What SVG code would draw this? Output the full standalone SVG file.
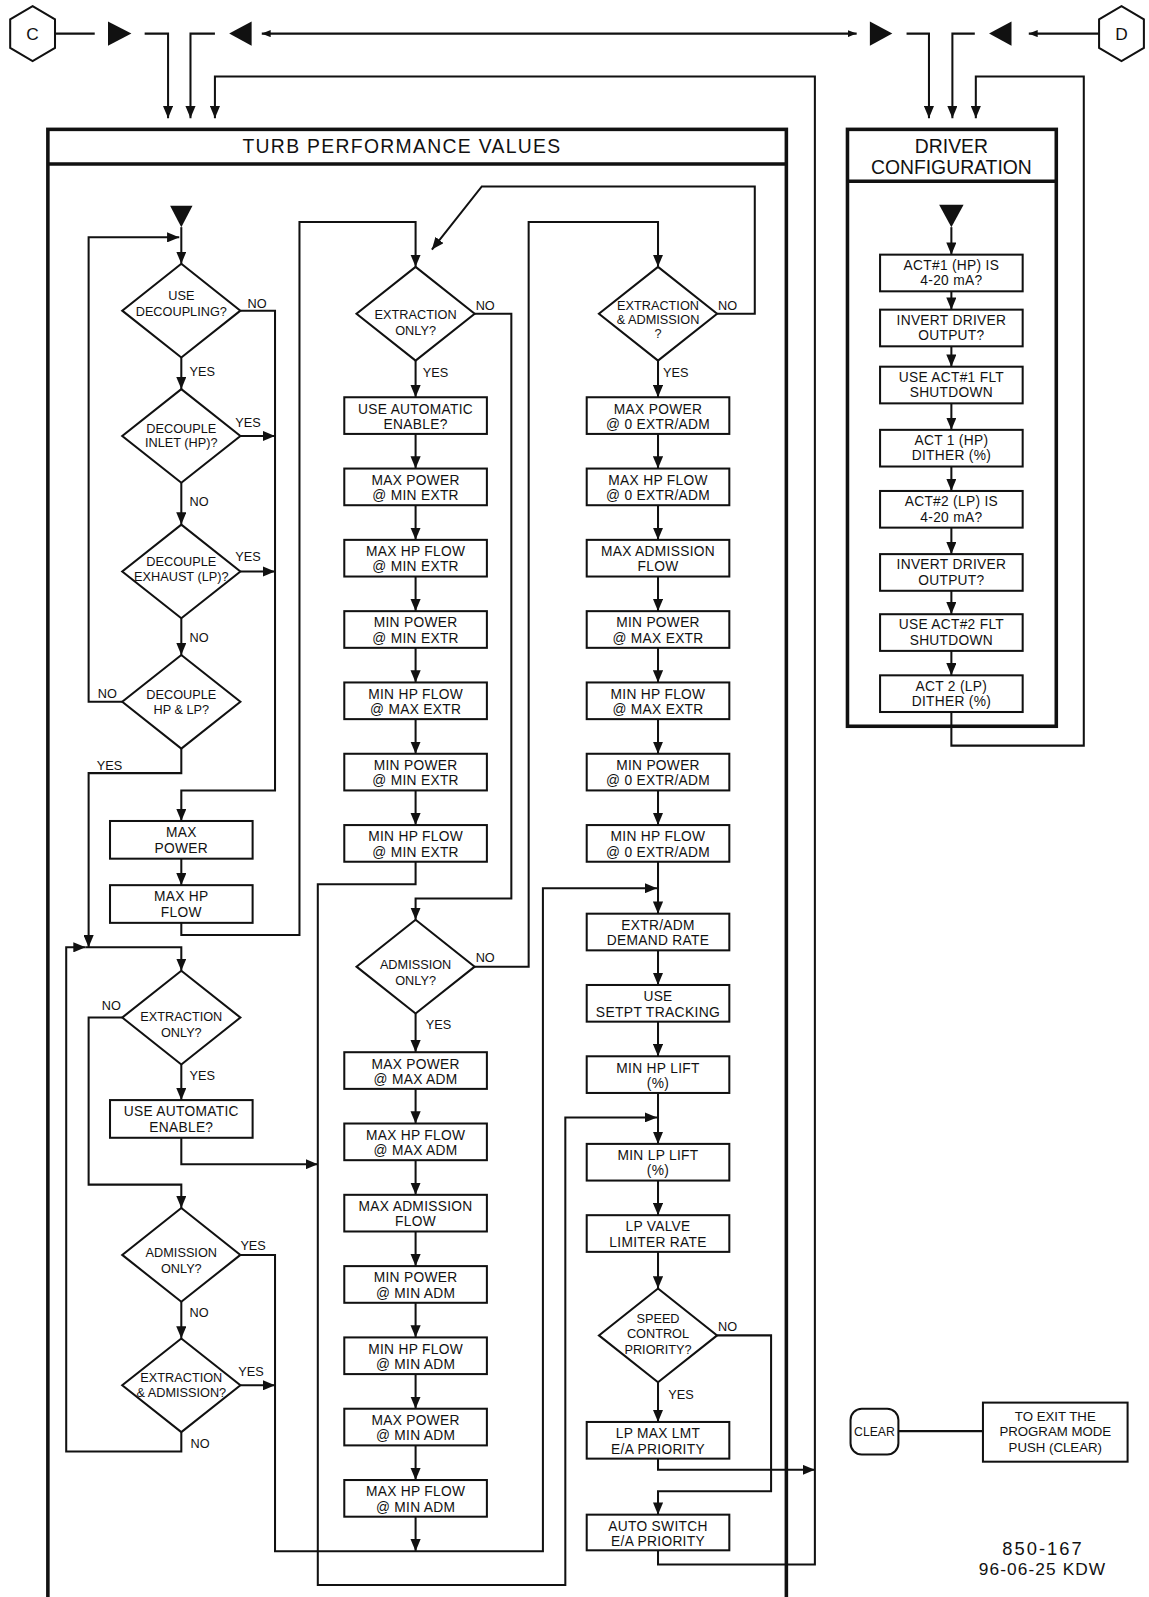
<svg xmlns="http://www.w3.org/2000/svg" width="1149" height="1597" viewBox="0 0 1149 1597">
<style>
.ln{fill:none;stroke:#111;stroke-width:2}
.bx{fill:#fff;stroke:#111;stroke-width:2}
.dm{fill:#fff;stroke:#111;stroke-width:2}
.fr{fill:none;stroke:#111;stroke-width:3.5}
.fl{fill:#111;stroke:none}
text{font-family:"Liberation Sans",Arial,sans-serif;fill:#111}
.t{font-size:13.5px;text-anchor:middle;letter-spacing:0.3px}
.td{font-size:12.5px;text-anchor:middle}
.lb{font-size:12.5px}
.h{font-size:19px;text-anchor:middle}
</style>
<defs>
<marker id="ah" viewBox="0 0 12 10" refX="12" refY="5" markerWidth="12" markerHeight="10" markerUnits="userSpaceOnUse" orient="auto"><path d="M0,0 L12,5 L0,10 Z" fill="#111"/></marker>
<marker id="as" viewBox="0 0 10 8" refX="10" refY="4" markerWidth="9" markerHeight="7" markerUnits="userSpaceOnUse" orient="auto-start-reverse"><path d="M0,0 L10,4 L0,8 Z" fill="#111"/></marker>
</defs>
<rect width="1149" height="1597" fill="#fff"/>
<g transform="scale(1.0186)">

<!-- frames -->
<g id="turb-frame">
<rect class="fr" x="47" y="127" width="725" height="1470"/>
<line class="fr" x1="47" y1="161" x2="772" y2="161"/>
<text class="h" x="394" y="150" textLength="312" lengthAdjust="spacing">TURB PERFORMANCE VALUES</text>
</g>
<g id="driver-frame">
<rect class="fr" x="832" y="127" width="205" height="586"/>
<line class="fr" x1="832" y1="178" x2="1037" y2="178"/>
<text class="h" x="934" y="150">DRIVER</text>
<text class="h" x="934" y="171">CONFIGURATION</text>
</g>

<!-- connectors -->
<g id="connectors" class="ln">
<path d="M55,33 H93"/>
<path d="M142,33 H165 V116" marker-end="url(#ah)"/>
<path d="M211,33 H187 V116" marker-end="url(#ah)"/>
<path d="M257,33 H841" marker-start="url(#as)" marker-end="url(#as)"/>
<path d="M890,33 H912 V116" marker-end="url(#ah)"/>
<path d="M957,33 H935 V116" marker-end="url(#ah)"/>
<path d="M1079,33 H1010" marker-end="url(#as)"/>
<path d="M646,1522 V1536 H800 V75 H211 V116" marker-end="url(#ah)"/>
<path d="M646,1432 V1443 H800" marker-end="url(#ah)"/>
<path d="M934,699 V732 H1064 V75 H958 V116" marker-end="url(#ah)"/>

<path d="M178,223 V259" marker-end="url(#ah)"/>
<path d="M120,689 H87 V233 H176" marker-end="url(#ah)"/>
<path d="M236,305 H270 V776 H178 V806" marker-end="url(#ah)"/>
<path d="M178,351 V382" marker-end="url(#ah)"/>
<path d="M236,428 H270" marker-end="url(#ah)"/>
<path d="M178,474 V515" marker-end="url(#ah)"/>
<path d="M236,561 H270" marker-end="url(#ah)"/>
<path d="M178,607 V643" marker-end="url(#ah)"/>
<path d="M178,735 V759 H87 V930" marker-end="url(#ah)"/>
<path d="M178,843 V869" marker-end="url(#ah)"/>
<path d="M178,905 V918 H294 V218 H408 V262" marker-end="url(#ah)"/>
<path d="M178,1406 V1425 H65 V930 H84" marker-end="url(#ah)"/>
<path d="M84,930 H178 V953" marker-end="url(#ah)"/>
<path d="M120,999 H87 V1163 H178 V1186" marker-end="url(#ah)"/>
<path d="M178,1045 V1080" marker-end="url(#ah)"/>
<path d="M178,1116 V1143 H312" marker-end="url(#ah)"/>
<path d="M236,1232 H270 V1523 H533 V872 H645" marker-end="url(#ah)"/>
<path d="M178,1278 V1314" marker-end="url(#ah)"/>
<path d="M236,1360 H270" marker-end="url(#ah)"/>

<path d="M704,308 H741 V183 H473 L424,245" marker-end="url(#ah)"/>
<path d="M466,308 H502 V882 H408 V903" marker-end="url(#ah)"/>
<path d="M408,354 V390" marker-end="url(#ah)"/>
<path d="M408,426 V460" marker-end="url(#ah)"/>
<path d="M408,496 V530" marker-end="url(#ah)"/>
<path d="M408,566 V600" marker-end="url(#ah)"/>
<path d="M408,636 V670" marker-end="url(#ah)"/>
<path d="M408,706 V740" marker-end="url(#ah)"/>
<path d="M408,776 V810" marker-end="url(#ah)"/>
<path d="M408,846 V868 H312 V1556 H555 V1097 H645" marker-end="url(#ah)"/>
<path d="M466,949 H519 V218 H646 V262" marker-end="url(#ah)"/>
<path d="M408,995 V1033" marker-end="url(#ah)"/>
<path d="M408,1069 V1103" marker-end="url(#ah)"/>
<path d="M408,1139 V1173" marker-end="url(#ah)"/>
<path d="M408,1209 V1243" marker-end="url(#ah)"/>
<path d="M408,1279 V1313" marker-end="url(#ah)"/>
<path d="M408,1349 V1383" marker-end="url(#ah)"/>
<path d="M408,1419 V1453" marker-end="url(#ah)"/>
<path d="M408,1489 V1523" marker-end="url(#ah)"/>

<path d="M646,354 V390" marker-end="url(#ah)"/>
<path d="M646,426 V460" marker-end="url(#ah)"/>
<path d="M646,496 V530" marker-end="url(#ah)"/>
<path d="M646,566 V600" marker-end="url(#ah)"/>
<path d="M646,636 V670" marker-end="url(#ah)"/>
<path d="M646,706 V740" marker-end="url(#ah)"/>
<path d="M646,776 V810" marker-end="url(#ah)"/>
<path d="M646,846 V897" marker-end="url(#ah)"/>
<path d="M646,933 V967" marker-end="url(#ah)"/>
<path d="M646,1003 V1037" marker-end="url(#ah)"/>
<path d="M646,1073 V1123" marker-end="url(#ah)"/>
<path d="M646,1159 V1193" marker-end="url(#ah)"/>
<path d="M646,1229 V1265" marker-end="url(#ah)"/>
<path d="M646,1357 V1396" marker-end="url(#ah)"/>
<path d="M704,1311 H757 V1464 H646 V1487" marker-end="url(#ah)"/>

<path d="M934,223 V250" marker-end="url(#ah)"/>
<path d="M934,286 V304" marker-end="url(#ah)"/>
<path d="M934,340 V360" marker-end="url(#ah)"/>
<path d="M934,396 V422" marker-end="url(#ah)"/>
<path d="M934,458 V482" marker-end="url(#ah)"/>
<path d="M934,518 V544" marker-end="url(#ah)"/>
<path d="M934,580 V603" marker-end="url(#ah)"/>
<path d="M934,639 V663" marker-end="url(#ah)"/>

<path d="M882,1405 H965"/>
</g>

<!-- top row nodes -->
<g id="conn-C"><polygon class="dm" points="32,6 54,19 54,47 32,60 10,47 10,19"/><text x="32" y="39.5" style="font-size:17px;text-anchor:middle">C</text></g>
<g id="conn-D"><polygon class="dm" points="1101,6 1123,19 1123,47 1101,60 1079,47 1079,19"/><text x="1101" y="39.5" style="font-size:17px;text-anchor:middle">D</text></g>
<g id="tri-1"><polygon class="fl" points="106,21 129,33 106,45"/></g>
<g id="tri-2"><polygon class="fl" points="247,21 225,33 247,45"/></g>
<g id="tri-3"><polygon class="fl" points="854,21 876,33 854,45"/></g>
<g id="tri-4"><polygon class="fl" points="993,21 971,33 993,45"/></g>
<g id="start-turb"><polygon class="fl" points="167,202 189,202 178,223"/></g>
<g id="start-driver"><polygon class="fl" points="922,201 946,201 934,223"/></g>

<!-- left column -->
<g id="d1"><polygon class="dm" points="178,259 236,305 178,351 120,305"/><text class="td" x="178" y="295">USE</text><text class="td" x="178" y="310">DECOUPLING?</text></g>
<g id="d2"><polygon class="dm" points="178,382 236,428 178,474 120,428"/><text class="td" x="178" y="425">DECOUPLE</text><text class="td" x="178" y="439">INLET (HP)?</text></g>
<g id="d3"><polygon class="dm" points="178,515 236,561 178,607 120,561"/><text class="td" x="178" y="556">DECOUPLE</text><text class="td" x="178" y="570">EXHAUST (LP)?</text></g>
<g id="d4"><polygon class="dm" points="178,643 236,689 178,735 120,689"/><text class="td" x="178" y="686">DECOUPLE</text><text class="td" x="178" y="701">HP &amp; LP?</text></g>
<g id="lb1"><rect class="bx" x="108" y="806" width="140" height="37"/><text class="t" x="178" y="822">MAX</text><text class="t" x="178" y="837">POWER</text></g>
<g id="lb2"><rect class="bx" x="108" y="869" width="140" height="37"/><text class="t" x="178" y="885">MAX HP</text><text class="t" x="178" y="900">FLOW</text></g>
<g id="d5"><polygon class="dm" points="178,953 236,999 178,1045 120,999"/><text class="td" x="178" y="1002">EXTRACTION</text><text class="td" x="178" y="1018">ONLY?</text></g>
<g id="lb3"><rect class="bx" x="108" y="1080" width="140" height="37"/><text class="t" x="178" y="1096">USE AUTOMATIC</text><text class="t" x="178" y="1111">ENABLE?</text></g>
<g id="d6"><polygon class="dm" points="178,1186 236,1232 178,1278 120,1232"/><text class="td" x="178" y="1234">ADMISSION</text><text class="td" x="178" y="1250">ONLY?</text></g>
<g id="d7"><polygon class="dm" points="178,1314 236,1360 178,1406 120,1360"/><text class="td" x="178" y="1357">EXTRACTION</text><text class="td" x="178" y="1371">&amp; ADMISSION?</text></g>

<!-- middle column -->
<g id="m1"><polygon class="dm" points="408,262 466,308 408,354 350,308"/><text class="td" x="408" y="313">EXTRACTION</text><text class="td" x="408" y="329">ONLY?</text></g>
<g id="mb1"><rect class="bx" x="338" y="390" width="140" height="36"/><text class="t" x="408" y="406">USE AUTOMATIC</text><text class="t" x="408" y="421">ENABLE?</text></g>
<g id="mb2"><rect class="bx" x="338" y="460" width="140" height="36"/><text class="t" x="408" y="476">MAX POWER</text><text class="t" x="408" y="491">@ MIN EXTR</text></g>
<g id="mb3"><rect class="bx" x="338" y="530" width="140" height="36"/><text class="t" x="408" y="546">MAX HP FLOW</text><text class="t" x="408" y="561">@ MIN EXTR</text></g>
<g id="mb4"><rect class="bx" x="338" y="600" width="140" height="36"/><text class="t" x="408" y="616">MIN POWER</text><text class="t" x="408" y="631">@ MIN EXTR</text></g>
<g id="mb5"><rect class="bx" x="338" y="670" width="140" height="36"/><text class="t" x="408" y="686">MIN HP FLOW</text><text class="t" x="408" y="701">@ MAX EXTR</text></g>
<g id="mb6"><rect class="bx" x="338" y="740" width="140" height="36"/><text class="t" x="408" y="756">MIN POWER</text><text class="t" x="408" y="771">@ MIN EXTR</text></g>
<g id="mb7"><rect class="bx" x="338" y="810" width="140" height="36"/><text class="t" x="408" y="826">MIN HP FLOW</text><text class="t" x="408" y="841">@ MIN EXTR</text></g>
<g id="m2"><polygon class="dm" points="408,903 466,949 408,995 350,949"/><text class="td" x="408" y="951">ADMISSION</text><text class="td" x="408" y="967">ONLY?</text></g>
<g id="mb8"><rect class="bx" x="338" y="1033" width="140" height="36"/><text class="t" x="408" y="1049">MAX POWER</text><text class="t" x="408" y="1064">@ MAX ADM</text></g>
<g id="mb9"><rect class="bx" x="338" y="1103" width="140" height="36"/><text class="t" x="408" y="1119">MAX HP FLOW</text><text class="t" x="408" y="1134">@ MAX ADM</text></g>
<g id="mb10"><rect class="bx" x="338" y="1173" width="140" height="36"/><text class="t" x="408" y="1189">MAX ADMISSION</text><text class="t" x="408" y="1204">FLOW</text></g>
<g id="mb11"><rect class="bx" x="338" y="1243" width="140" height="36"/><text class="t" x="408" y="1259">MIN POWER</text><text class="t" x="408" y="1274">@ MIN ADM</text></g>
<g id="mb12"><rect class="bx" x="338" y="1313" width="140" height="36"/><text class="t" x="408" y="1329">MIN HP FLOW</text><text class="t" x="408" y="1344">@ MIN ADM</text></g>
<g id="mb13"><rect class="bx" x="338" y="1383" width="140" height="36"/><text class="t" x="408" y="1399">MAX POWER</text><text class="t" x="408" y="1414">@ MIN ADM</text></g>
<g id="mb14"><rect class="bx" x="338" y="1453" width="140" height="36"/><text class="t" x="408" y="1469">MAX HP FLOW</text><text class="t" x="408" y="1484">@ MIN ADM</text></g>

<!-- right column -->
<g id="r1"><polygon class="dm" points="646,262 704,308 646,354 588,308"/><text class="td" x="646" y="304">EXTRACTION</text><text class="td" x="646" y="318">&amp; ADMISSION</text><text class="td" x="646" y="332">?</text></g>
<g id="rb1"><rect class="bx" x="576" y="390" width="140" height="36"/><text class="t" x="646" y="406">MAX POWER</text><text class="t" x="646" y="421">@ 0 EXTR/ADM</text></g>
<g id="rb2"><rect class="bx" x="576" y="460" width="140" height="36"/><text class="t" x="646" y="476">MAX HP FLOW</text><text class="t" x="646" y="491">@ 0 EXTR/ADM</text></g>
<g id="rb3"><rect class="bx" x="576" y="530" width="140" height="36"/><text class="t" x="646" y="546">MAX ADMISSION</text><text class="t" x="646" y="561">FLOW</text></g>
<g id="rb4"><rect class="bx" x="576" y="600" width="140" height="36"/><text class="t" x="646" y="616">MIN POWER</text><text class="t" x="646" y="631">@ MAX EXTR</text></g>
<g id="rb5"><rect class="bx" x="576" y="670" width="140" height="36"/><text class="t" x="646" y="686">MIN HP FLOW</text><text class="t" x="646" y="701">@ MAX EXTR</text></g>
<g id="rb6"><rect class="bx" x="576" y="740" width="140" height="36"/><text class="t" x="646" y="756">MIN POWER</text><text class="t" x="646" y="771">@ 0 EXTR/ADM</text></g>
<g id="rb7"><rect class="bx" x="576" y="810" width="140" height="36"/><text class="t" x="646" y="826">MIN HP FLOW</text><text class="t" x="646" y="841">@ 0 EXTR/ADM</text></g>
<g id="rb8"><rect class="bx" x="576" y="897" width="140" height="36"/><text class="t" x="646" y="913">EXTR/ADM</text><text class="t" x="646" y="928">DEMAND RATE</text></g>
<g id="rb9"><rect class="bx" x="576" y="967" width="140" height="36"/><text class="t" x="646" y="983">USE</text><text class="t" x="646" y="998" textLength="122" lengthAdjust="spacingAndGlyphs">SETPT TRACKING</text></g>
<g id="rb10"><rect class="bx" x="576" y="1037" width="140" height="36"/><text class="t" x="646" y="1053">MIN HP LIFT</text><text class="t" x="646" y="1068">(%)</text></g>
<g id="rb11"><rect class="bx" x="576" y="1123" width="140" height="36"/><text class="t" x="646" y="1139">MIN LP LIFT</text><text class="t" x="646" y="1154">(%)</text></g>
<g id="rb12"><rect class="bx" x="576" y="1193" width="140" height="36"/><text class="t" x="646" y="1209">LP VALVE</text><text class="t" x="646" y="1224">LIMITER RATE</text></g>
<g id="r2"><polygon class="dm" points="646,1265 704,1311 646,1357 588,1311"/><text class="td" x="646" y="1299">SPEED</text><text class="td" x="646" y="1314">CONTROL</text><text class="td" x="646" y="1329">PRIORITY?</text></g>
<g id="rb13"><rect class="bx" x="576" y="1396" width="140" height="36"/><text class="t" x="646" y="1412">LP MAX LMT</text><text class="t" x="646" y="1427">E/A PRIORITY</text></g>
<g id="rb14"><rect class="bx" x="576" y="1487" width="140" height="35"/><text class="t" x="646" y="1503">AUTO SWITCH</text><text class="t" x="646" y="1518">E/A PRIORITY</text></g>

<!-- driver column -->
<g id="db1"><rect class="bx" x="864" y="250" width="140" height="36"/><text class="t" x="934" y="265">ACT#1 (HP) IS</text><text class="t" x="934" y="280">4-20 mA?</text></g>
<g id="db2"><rect class="bx" x="864" y="304" width="140" height="36"/><text class="t" x="934" y="319">INVERT DRIVER</text><text class="t" x="934" y="334">OUTPUT?</text></g>
<g id="db3"><rect class="bx" x="864" y="360" width="140" height="36"/><text class="t" x="934" y="375">USE ACT#1 FLT</text><text class="t" x="934" y="390">SHUTDOWN</text></g>
<g id="db4"><rect class="bx" x="864" y="422" width="140" height="36"/><text class="t" x="934" y="437">ACT 1 (HP)</text><text class="t" x="934" y="452">DITHER (%)</text></g>
<g id="db5"><rect class="bx" x="864" y="482" width="140" height="36"/><text class="t" x="934" y="497">ACT#2 (LP) IS</text><text class="t" x="934" y="512">4-20 mA?</text></g>
<g id="db6"><rect class="bx" x="864" y="544" width="140" height="36"/><text class="t" x="934" y="559">INVERT DRIVER</text><text class="t" x="934" y="574">OUTPUT?</text></g>
<g id="db7"><rect class="bx" x="864" y="603" width="140" height="36"/><text class="t" x="934" y="618">USE ACT#2 FLT</text><text class="t" x="934" y="633">SHUTDOWN</text></g>
<g id="db8"><rect class="bx" x="864" y="663" width="140" height="36"/><text class="t" x="934" y="678">ACT 2 (LP)</text><text class="t" x="934" y="693">DITHER (%)</text></g>

<!-- clear / exit -->
<g id="clear"><rect class="bx" x="835" y="1383" width="47" height="45" rx="11"/><text x="858.5" y="1410" style="font-size:12px;text-anchor:middle">CLEAR</text></g>
<g id="exit-note"><rect class="bx" x="965" y="1377" width="142" height="58"/><text x="1036" y="1395" style="font-size:13px;text-anchor:middle">TO EXIT THE</text><text x="1036" y="1410" style="font-size:13px;text-anchor:middle">PROGRAM MODE</text><text x="1036" y="1425" style="font-size:13px;text-anchor:middle">PUSH (CLEAR)</text></g>

<!-- labels -->
<g id="labels">
<text class="lb" x="243" y="302">NO</text>
<text class="lb" x="186" y="369">YES</text>
<text class="lb" x="231" y="419">YES</text>
<text class="lb" x="186" y="497">NO</text>
<text class="lb" x="231" y="551">YES</text>
<text class="lb" x="186" y="630">NO</text>
<text class="lb" x="96" y="685">NO</text>
<text class="lb" x="95" y="756">YES</text>
<text class="lb" x="100" y="992">NO</text>
<text class="lb" x="186" y="1060">YES</text>
<text class="lb" x="236" y="1227">YES</text>
<text class="lb" x="186" y="1293">NO</text>
<text class="lb" x="234" y="1351">YES</text>
<text class="lb" x="187" y="1422">NO</text>
<text class="lb" x="467" y="304">NO</text>
<text class="lb" x="415" y="370">YES</text>
<text class="lb" x="705" y="304">NO</text>
<text class="lb" x="651" y="370">YES</text>
<text class="lb" x="467" y="944">NO</text>
<text class="lb" x="418" y="1010">YES</text>
<text class="lb" x="705" y="1307">NO</text>
<text class="lb" x="656" y="1373">YES</text>
</g>

<g id="footer">
<text x="1023" y="1527" style="font-size:18px;text-anchor:middle" textLength="78" lengthAdjust="spacing">850-167</text>
<text x="1023" y="1546" style="font-size:17px;text-anchor:middle" textLength="124" lengthAdjust="spacing">96-06-25 KDW</text>
</g>
</g>
</svg>
